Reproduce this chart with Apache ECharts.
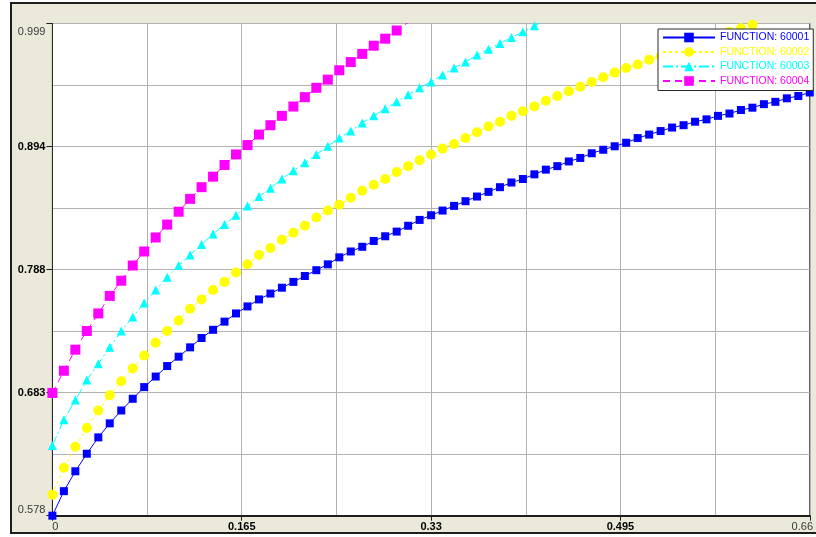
<!DOCTYPE html>
<html><head><meta charset="utf-8">
<script src="https://cdn.jsdelivr.net/npm/echarts@6/dist/echarts.min.js"></script>
<style>html,body{margin:0;padding:0;background:#fff}#c{width:816px;height:537px}</style>
</head><body><div id="c"></div>
<script>
// ---- data ----
const xValues = [0,0.01,0.02,0.03,0.04,0.05,0.06,0.07,0.08,0.09,
  0.10,0.11,0.12,0.13,0.14,0.15,0.16,0.17,0.18,0.19,
  0.20,0.21,0.22,0.23,0.24,0.25,0.26,0.27,0.28,0.29,
  0.30,0.31,0.32,0.33,0.34,0.35,0.36,0.37,0.38,0.39,
  0.40,0.41,0.42,0.43,0.44,0.45,0.46,0.47,0.48,0.49,
  0.50,0.51,0.52,0.53,0.54,0.55,0.56,0.57,0.58,0.59,
  0.60,0.61,0.62,0.63,0.64,0.65,0.66];
const seriesNames = ['FUNCTION: 60001','FUNCTION: 60002','FUNCTION: 60003','FUNCTION: 60004'];
const f60001 = [0.578,0.599,0.616,0.631,0.645,0.657,0.668,0.678,0.688,0.697,
  0.706,0.714,0.722,0.730,0.737,0.744,0.751,0.757,0.763,0.768,
  0.773,0.778,0.783,0.788,0.793,0.799,0.804,0.808,0.813,0.817,
  0.821,0.826,0.831,0.835,0.839,0.843,0.847,0.851,0.855,0.859,
  0.863,0.866,0.870,0.874,0.877,0.881,0.884,0.888,0.891,0.894,
  0.897,0.901,0.904,0.907,0.910,0.912,0.915,0.917,0.920,0.922,
  0.925,0.927,0.930,0.932,0.935,0.937,0.940];
const f60002 = [0.596,0.619,0.637,0.653,0.668,0.681,0.693,0.704,0.715,0.726,
  0.736,0.745,0.755,0.763,0.771,0.778,0.786,0.793,0.801,0.807,
  0.814,0.820,0.826,0.833,0.839,0.844,0.850,0.856,0.861,0.866,
  0.872,0.877,0.882,0.887,0.892,0.896,0.901,0.906,0.911,0.915,
  0.920,0.924,0.928,0.933,0.937,0.941,0.945,0.949,0.953,0.957,
  0.961,0.964,0.968,0.971,0.975,0.978,0.982,0.985,0.988,0.992,
  0.995,0.998,1.001];
const f60003 = [0.638,0.660,0.677,0.694,0.708,0.722,0.736,0.748,0.760,0.771,
  0.782,0.792,0.801,0.810,0.819,0.827,0.835,0.843,0.851,0.858,
  0.866,0.873,0.880,0.887,0.894,0.901,0.907,0.914,0.920,0.926,
  0.932,0.938,0.944,0.949,0.955,0.961,0.966,0.972,0.977,0.982,
  0.987,0.992,0.997,1.002];
const f60004 = [0.683,0.702,0.720,0.736,0.751,0.766,0.779,0.792,0.804,0.816,
  0.827,0.838,0.849,0.859,0.868,0.878,0.887,0.895,0.904,0.912,
  0.920,0.928,0.936,0.944,0.951,0.959,0.966,0.973,0.980,0.986,
  0.993,1.000];
const xTickLabels = ['0','0.165','0.33','0.495','0.66'];
const yTickLabels = ['0.578','0.683','0.788','0.894','0.999'];
const xMin = 0, xMax = 0.66, xInterval = 0.165;
const yMin = 0.578, yMax = 0.999, yInterval = 0.10525;

// ---- style ----
const FONT = '"Liberation Sans", Arial, sans-serif';
const colors = ['#0000ff','#ffff00','#00ffff','#ff00ff'];
const gridColor = '#b2b2b2';
const pairs = ys => ys.map((y, i) => [xValues[i], y]);

const chart = echarts.init(document.getElementById('c'));
chart.setOption({
  animation: false,
  backgroundColor: '#ffffff',
  graphic: [{
    type: 'rect', z: -10, silent: true,
    shape: { x: 11, y: 3, width: 830, height: 530 },
    style: { fill: '#ebe9da', stroke: '#1e1e1e', lineWidth: 2 }
  }],
  grid: { left: 52.4, top: 23.5, width: 765.2, height: 492.2, show: true,
    backgroundColor: '#ffffff', borderColor: '#2a2a2a', borderWidth: 1 },
  xAxis: {
    type: 'value', min: xMin, max: xMax, interval: xInterval,
    axisLine: { show: true, onZero: false, lineStyle: { color: '#1e1e1e', width: 2 } },
    axisTick: { show: true, length: 5, lineStyle: { color: '#1e1e1e' } },
    splitLine: { show: true, lineStyle: { color: gridColor } },
    minorTick: { show: false, splitNumber: 2 },
    minorSplitLine: { show: true, lineStyle: { color: gridColor } },
    axisLabel: {
      margin: 6, showMinLabel: true, showMaxLabel: true,
      formatter: (v, i) => {
        const t = xTickLabels[i];
        if (i === 0) return '{first|' + t + '}';
        if (i === xTickLabels.length - 1) return '{last|' + t + '}';
        return '{mid|' + t + '}';
      },
      rich: {
        first: { fontFamily: FONT, fontSize: 11, color: '#3a3a3a', padding: [0, 0, 0, 6] },
        last: { fontFamily: FONT, fontSize: 11, color: '#3a3a3a', padding: [0, 15, 0, 0] },
        mid: { fontFamily: FONT, fontSize: 11, color: '#000', fontWeight: 'bold' }
      }
    }
  },
  yAxis: {
    type: 'value', min: yMin, max: yMax, interval: yInterval,
    axisLine: { show: true, onZero: false, lineStyle: { color: '#2a2a2a', width: 1 } },
    axisTick: { show: true, length: 6, lineStyle: { color: '#1e1e1e' } },
    splitLine: { show: true, lineStyle: { color: gridColor } },
    minorTick: { show: false, splitNumber: 2 },
    minorSplitLine: { show: true, lineStyle: { color: gridColor } },
    axisLabel: {
      margin: 7, showMinLabel: true, showMaxLabel: true,
      formatter: (v, i) => {
        const t = yTickLabels[i];
        if (i === 0) return '{first|' + t + '}';
        if (i === yTickLabels.length - 1) return '{last|' + t + '}';
        return '{mid|' + t + '}';
      },
      rich: {
        first: { fontFamily: FONT, fontSize: 11, color: '#3a3a3a', padding: [0, 0, 12, 0] },
        last: { fontFamily: FONT, fontSize: 11, color: '#3a3a3a', padding: [16, 0, 0, 0] },
        mid: { fontFamily: FONT, fontSize: 11, color: '#000', fontWeight: 'bold' }
      }
    }
  },
  legend: {
    orient: 'vertical', left: 658, top: 29,
    itemWidth: 52, itemHeight: 12, itemGap: 3.5, padding: [3, 4, 4, 4],
    backgroundColor: '#ffffff', borderColor: '#2a2a2a', borderWidth: 1,
    textStyle: { fontFamily: FONT, fontSize: 10.5 },
    data: seriesNames.map((n, i) => ({ name: n, textStyle: { color: colors[i] } }))
  },
  series: [
    { name: seriesNames[0], type: 'line', data: pairs(f60001), symbol: 'rect', symbolSize: 8,
      showAllSymbol: true, clip: true,
      lineStyle: { color: colors[0], width: 1 }, itemStyle: { color: colors[0] } },
    { name: seriesNames[1], type: 'line', data: pairs(f60002), symbol: 'circle', symbolSize: 10,
      showAllSymbol: true, clip: true,
      lineStyle: { color: colors[1], width: 1, type: [3, 3] }, itemStyle: { color: colors[1] } },
    { name: seriesNames[2], type: 'line', data: pairs(f60003), symbol: 'triangle', symbolSize: 9,
      showAllSymbol: true, clip: true,
      lineStyle: { color: colors[2], width: 1, type: [10, 3, 2, 3] }, itemStyle: { color: colors[2] } },
    { name: seriesNames[3], type: 'line', data: pairs(f60004), symbol: 'rect', symbolSize: 10,
      showAllSymbol: true, clip: true,
      lineStyle: { color: colors[3], width: 1, type: [7, 5] }, itemStyle: { color: colors[3] } }
  ]
});
</script>
</body></html>
